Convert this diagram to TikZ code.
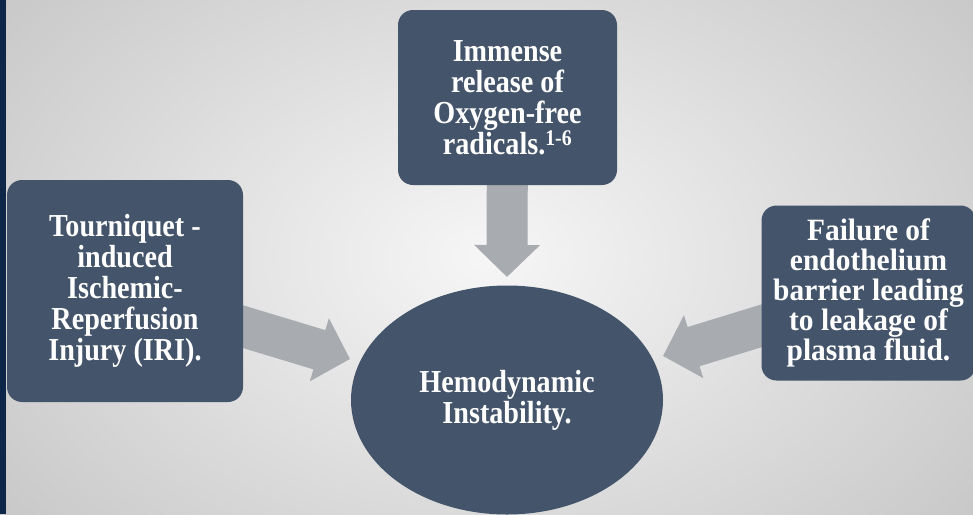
\documentclass[tikz,border=0pt]{standalone}
\usepackage{fontspec}
\setmainfont{Liberation Serif}
\newfontfamily\cardfont[FakeStretch=0.88]{Liberation Serif}
\newfontfamily\widecardfont[FakeStretch=0.95]{Liberation Serif}
\usetikzlibrary{arrows.meta,shapes.geometric}
\definecolor{boxblue}{HTML}{44546A}
\definecolor{arrowgray}{HTML}{A8ABB0}
\definecolor{navybar}{HTML}{0E2748}
\definecolor{bgin}{HTML}{F6F6F6}
\definecolor{bgout}{HTML}{C9C9C9}
\pgfdeclarelayer{bgshade}
\pgfdeclarelayer{arrowlayer}
\pgfsetlayers{bgshade,arrowlayer,main}
\begin{document}
\begin{tikzpicture}[x=1pt,y=-1pt,
  card/.style={fill=boxblue, rounded corners=15pt, text=white,
    font=\cardfont\bfseries\fontsize{32}{31}\selectfont, align=center, inner sep=0pt},
  hub/.style={ellipse, fill=boxblue, text=white,
    font=\cardfont\bfseries\fontsize{32}{31}\selectfont, align=center, inner sep=0pt},
  fatarrow/.style={draw=arrowgray, line width=41pt,
    -{Triangle[width=64pt,length=32pt,fill=arrowgray]}}]
\useasboundingbox (0,0) rectangle (973,514);

% boxes
\node[card, minimum width=236pt, minimum height=222pt] (left) at (125,291)
  {Tourniquet -\\induced\\Ischemic-\\Reperfusion\\Injury (IRI).};
\node[card, minimum width=219pt, minimum height=175pt] (top) at (507.5,97.5)
  {Immense\\release of\\Oxygen-free\\radicals.\textsuperscript{1-6}};
\node[card, minimum width=214pt, minimum height=175pt,
  font=\widecardfont\bfseries\fontsize{31}{30}\selectfont] (right) at (868.5,293)
  {Failure of\\endothelium\\barrier leading\\to leakage of\\plasma fluid.};
\node[hub, minimum width=312pt, minimum height=229pt] (hub) at (507,400)
  {Hemodynamic\\Instability.};

\coordinate (tipL) at (350,359);
\coordinate (tipT) at (507,277);
\coordinate (tipR) at (663,356);

\begin{pgfonlayer}{arrowlayer}
  \draw[fatarrow] (left.center) -- (tipL);
  \draw[fatarrow] (top.center) -- (tipT);
  \draw[fatarrow] (right.center) -- (tipR);
\end{pgfonlayer}

\begin{pgfonlayer}{bgshade}
  \shade[inner color=bgin, outer color=bgout] (-120,-160) rectangle (1093,674);
  \fill[navybar] (0,0) rectangle (6,514);
\end{pgfonlayer}
\end{tikzpicture}
\end{document}
